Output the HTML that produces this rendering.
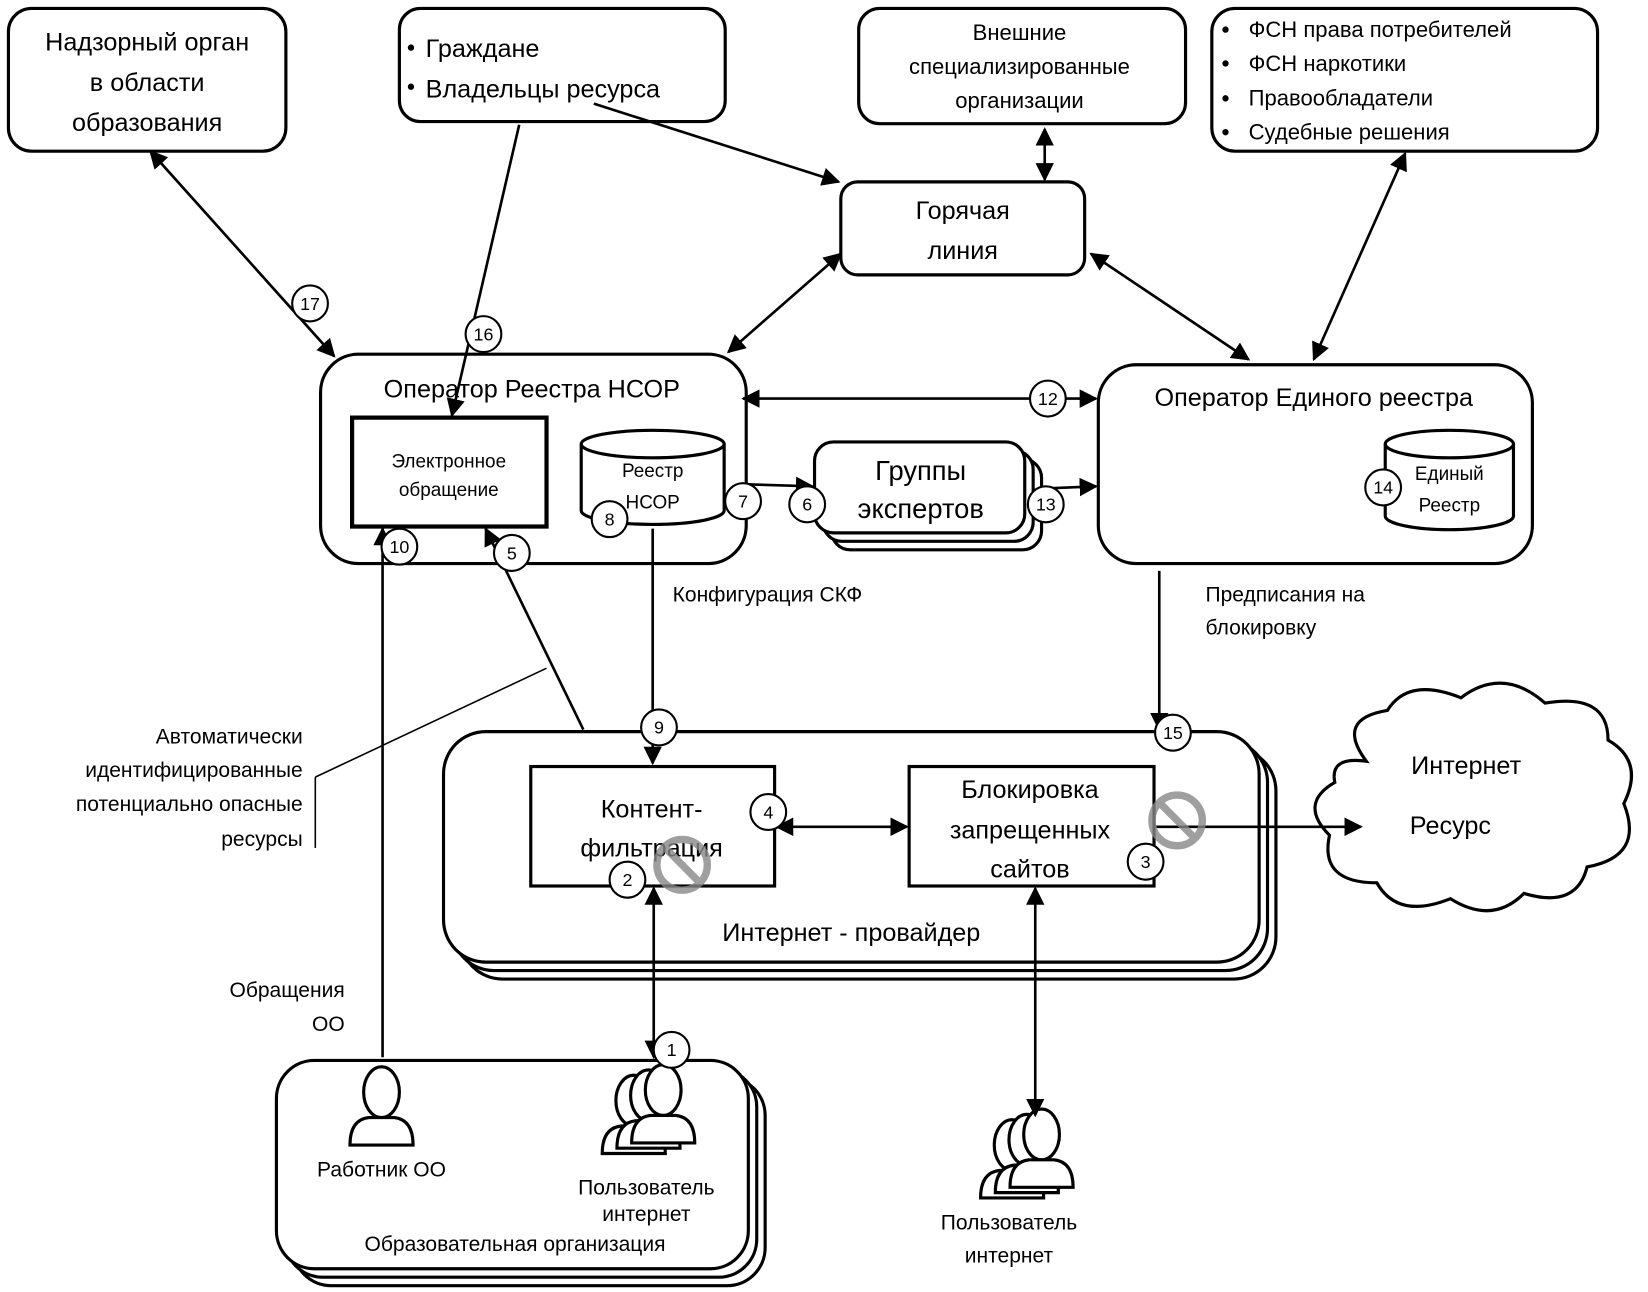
<!DOCTYPE html>
<html><head><meta charset="utf-8"><style>
html,body{margin:0;padding:0;background:#fff}
svg{display:block}
text{font-family:"Liberation Sans","DejaVu Sans",sans-serif;fill:#000}
</style></head><body>
<svg width="1648" height="1292" viewBox="0 0 1568 1222" preserveAspectRatio="none" xmlns="http://www.w3.org/2000/svg">
<defs>
<marker id="a" viewBox="0 0 10 10" refX="9" refY="5" markerWidth="7" markerHeight="7" orient="auto-start-reverse"><path d="M0,0 L10,5 L0,10 z" fill="#000"/></marker>
<g id="person"><ellipse cx="0" cy="-22" rx="17" ry="24" fill="#fff" stroke="#000" stroke-width="3"/><path d="M-30,28 Q-30,4 -12,2 L12,2 Q30,4 30,28 Z" fill="#fff" stroke="#000" stroke-width="3"/></g>
</defs>
<g fill="#fff" stroke="#000" stroke-width="3">
<rect x="8" y="8" width="264" height="135" rx="22"/>
<rect x="380" y="8" width="310" height="107" rx="20"/>
<rect x="817" y="8" width="311" height="109" rx="20"/>
<rect x="1153" y="8" width="367" height="135" rx="22"/>
<rect x="800" y="172" width="232" height="88" rx="16"/>
<rect x="305" y="335" width="405" height="198" rx="36"/>
<rect x="335" y="395" width="185" height="103" stroke-width="4"/>
<rect x="1045" y="345" width="413" height="188" rx="36"/>
<rect x="791" y="434" width="200" height="86" rx="18"/>
<rect x="783" y="426" width="200" height="86" rx="18"/>
<rect x="775" y="418" width="200" height="86" rx="18"/>
<rect x="438" y="708" width="776" height="218" rx="40"/>
<rect x="430" y="700" width="776" height="218" rx="40"/>
<rect x="422" y="692" width="776" height="218" rx="40"/>
<rect x="505" y="725" width="232" height="113"/>
<rect x="865" y="725" width="233" height="113"/>
<rect x="279" y="1019" width="449" height="197" rx="36"/>
<rect x="271" y="1011" width="449" height="197" rx="36"/>
<rect x="263" y="1003" width="449" height="197" rx="36"/>
<path d="M1300,720 Q1270,680 1320,672 Q1340,640 1390,660 Q1430,630 1470,665 Q1530,655 1530,700 Q1565,720 1545,760 Q1565,810 1510,820 Q1500,860 1450,845 Q1420,875 1380,850 Q1330,870 1310,835 Q1255,835 1265,790 Q1235,760 1270,740 Q1265,715 1300,720 Z"/>
</g>
<g fill="#fff" stroke="#000" stroke-width="3">
<path d="M553,420 L553,483 A68,13 0 0 0 689,483 L689,420"/>
<ellipse cx="621" cy="420" rx="68" ry="13"/>
<path d="M1318,420 L1318,488 A61,13 0 0 0 1440,488 L1440,420"/>
<ellipse cx="1379" cy="420" rx="61" ry="13"/>
</g>
<g font-size="24" text-anchor="middle">
<text x="140" y="48">Надзорный орган</text>
<text x="140" y="86">в области</text>
<text x="140" y="124">образования</text>
<text x="916" y="207">Горячая</text>
<text x="916" y="245">линия</text>
<text x="506" y="376">Оператор Реестра НСОР</text>
<text x="1250" y="384">Оператор Единого реестра</text>
<text x="876" y="454" font-size="26">Группы</text>
<text x="876" y="490" font-size="26">экспертов</text>
<text x="620" y="773">Контент-</text>
<text x="620" y="810">фильтрация</text>
<text x="980" y="755">Блокировка</text>
<text x="980" y="793">запрещенных</text>
<text x="980" y="830">сайтов</text>
<text x="810" y="890">Интернет - провайдер</text>
<text x="1395" y="732">Интернет</text>
<text x="1380" y="789">Ресурс</text>
</g>
<g font-size="24"><text x="405" y="54">Граждане</text><text x="405" y="92">Владельцы  ресурса</text></g>
<g><circle cx="391" cy="45" r="3"/><circle cx="391" cy="82" r="3"/></g>
<g font-size="21" text-anchor="middle">
<text x="970" y="38">Внешние</text><text x="970" y="70">специализированные</text><text x="970" y="102">организации</text>
</g>
<g font-size="21">
<text x="1188" y="35">ФСН права потребителей</text>
<text x="1188" y="67">ФСН наркотики</text>
<text x="1188" y="100">Правообладатели</text>
<text x="1188" y="132">Судебные решения</text>
<circle cx="1166" cy="28" r="3"/><circle cx="1166" cy="60" r="3"/><circle cx="1166" cy="93" r="3"/><circle cx="1166" cy="125" r="3"/>
</g>
<g font-size="18" text-anchor="middle">
<text x="427" y="442">Электронное</text><text x="427" y="469">обращение</text>
<text x="621" y="451">Реестр</text><text x="621" y="481">НСОР</text>
<text x="1379" y="454">Единый</text><text x="1379" y="484">Реестр</text>
</g>
<g font-size="20">
<text x="640" y="569">Конфигурация СКФ</text>
<text x="1147" y="569">Предписания на</text><text x="1147" y="600">блокировку</text>
<text x="288" y="703" text-anchor="end">Автоматически</text>
<text x="288" y="735" text-anchor="end">идентифицированные</text>
<text x="288" y="767" text-anchor="end">потенциально опасные</text>
<text x="288" y="800" text-anchor="end">ресурсы</text>
<text x="328" y="943" text-anchor="end">Обращения</text>
<text x="328" y="975" text-anchor="end">ОО</text>
<text x="363" y="1113" text-anchor="middle">Работник ОО</text>
<text x="615" y="1130" text-anchor="middle">Пользователь</text><text x="615" y="1155" text-anchor="middle">интернет</text>
<text x="490" y="1183" text-anchor="middle">Образовательная организация</text>
<text x="960" y="1163" text-anchor="middle">Пользователь</text><text x="960" y="1194" text-anchor="middle">интернет</text>
</g>
<line x1="300" y1="735" x2="300" y2="802" stroke="#000" stroke-width="1.5"/>
<line x1="300" y1="735" x2="520" y2="632" stroke="#000" stroke-width="1.5"/>
<use href="#person" x="363" y="1055"/>
<use href="#person" x="603" y="1063"/><use href="#person" x="617" y="1058"/><use href="#person" x="631" y="1053"/>
<use href="#person" x="963" y="1105"/><use href="#person" x="977" y="1100"/><use href="#person" x="991" y="1095"/>
<g stroke="#000" stroke-width="2.5" fill="none">
<line x1="143" y1="143" x2="318" y2="337" marker-start="url(#a)" marker-end="url(#a)"/>
<line x1="494" y1="118" x2="430" y2="393" marker-end="url(#a)"/>
<line x1="565" y1="98" x2="798" y2="172" marker-end="url(#a)"/>
<line x1="994" y1="122" x2="994" y2="170" marker-start="url(#a)" marker-end="url(#a)"/>
<line x1="1337" y1="145" x2="1250" y2="340" marker-start="url(#a)" marker-end="url(#a)"/>
<line x1="800" y1="240" x2="693" y2="333" marker-start="url(#a)" marker-end="url(#a)"/>
<line x1="1038" y1="240" x2="1188" y2="340" marker-start="url(#a)" marker-end="url(#a)"/>
<line x1="707" y1="377" x2="1043" y2="377" marker-start="url(#a)" marker-end="url(#a)"/>
<line x1="707" y1="458" x2="773" y2="460" marker-end="url(#a)"/>
<line x1="995" y1="462" x2="1043" y2="460" marker-end="url(#a)"/>
<line x1="621" y1="500" x2="621" y2="722" marker-end="url(#a)"/>
<line x1="1103" y1="540" x2="1103" y2="690" marker-end="url(#a)"/>
<line x1="555" y1="690" x2="462" y2="500" marker-end="url(#a)"/>
<line x1="364" y1="1000" x2="364" y2="500" marker-end="url(#a)"/>
<line x1="739" y1="782" x2="863" y2="782" marker-start="url(#a)" marker-end="url(#a)"/>
<line x1="1100" y1="782" x2="1295" y2="782" marker-end="url(#a)"/>
<line x1="622" y1="840" x2="622" y2="1000" marker-start="url(#a)" marker-end="url(#a)"/>
<line x1="985" y1="840" x2="985" y2="1055" marker-start="url(#a)" marker-end="url(#a)"/>
</g>
<g stroke="#888" stroke-width="7" fill="none" opacity="0.8">
<circle cx="649" cy="818" r="24"/><line x1="632" y1="801" x2="666" y2="835"/>
<circle cx="1120" cy="776" r="24"/><line x1="1103" y1="759" x2="1137" y2="793"/>
</g>
<g fill="#fff" stroke="#000" stroke-width="2">
<circle cx="295" cy="287" r="17"/><circle cx="460" cy="316" r="17"/><circle cx="580" cy="491" r="17"/>
<circle cx="707" cy="474" r="17"/><circle cx="768" cy="477" r="17"/><circle cx="997" cy="377" r="17"/>
<circle cx="995" cy="477" r="17"/><circle cx="1316" cy="461" r="17"/><circle cx="380" cy="517" r="17"/>
<circle cx="487" cy="523" r="17"/><circle cx="627" cy="688" r="17"/><circle cx="1116" cy="693" r="17"/>
<circle cx="731" cy="768" r="17"/><circle cx="597" cy="832" r="17"/><circle cx="1090" cy="815" r="17"/>
<circle cx="639" cy="993" r="17"/>
</g>
<g font-size="17" text-anchor="middle">
<text x="295" y="293">17</text><text x="460" y="322">16</text><text x="580" y="497">8</text>
<text x="707" y="480">7</text><text x="768" y="483">6</text><text x="997" y="383">12</text>
<text x="995" y="483">13</text><text x="1316" y="467">14</text><text x="380" y="523">10</text>
<text x="487" y="529">5</text><text x="627" y="694">9</text><text x="1116" y="699">15</text>
<text x="731" y="774">4</text><text x="597" y="838">2</text><text x="1090" y="821">3</text>
<text x="639" y="999">1</text>
</g>
</svg>
</body></html>
